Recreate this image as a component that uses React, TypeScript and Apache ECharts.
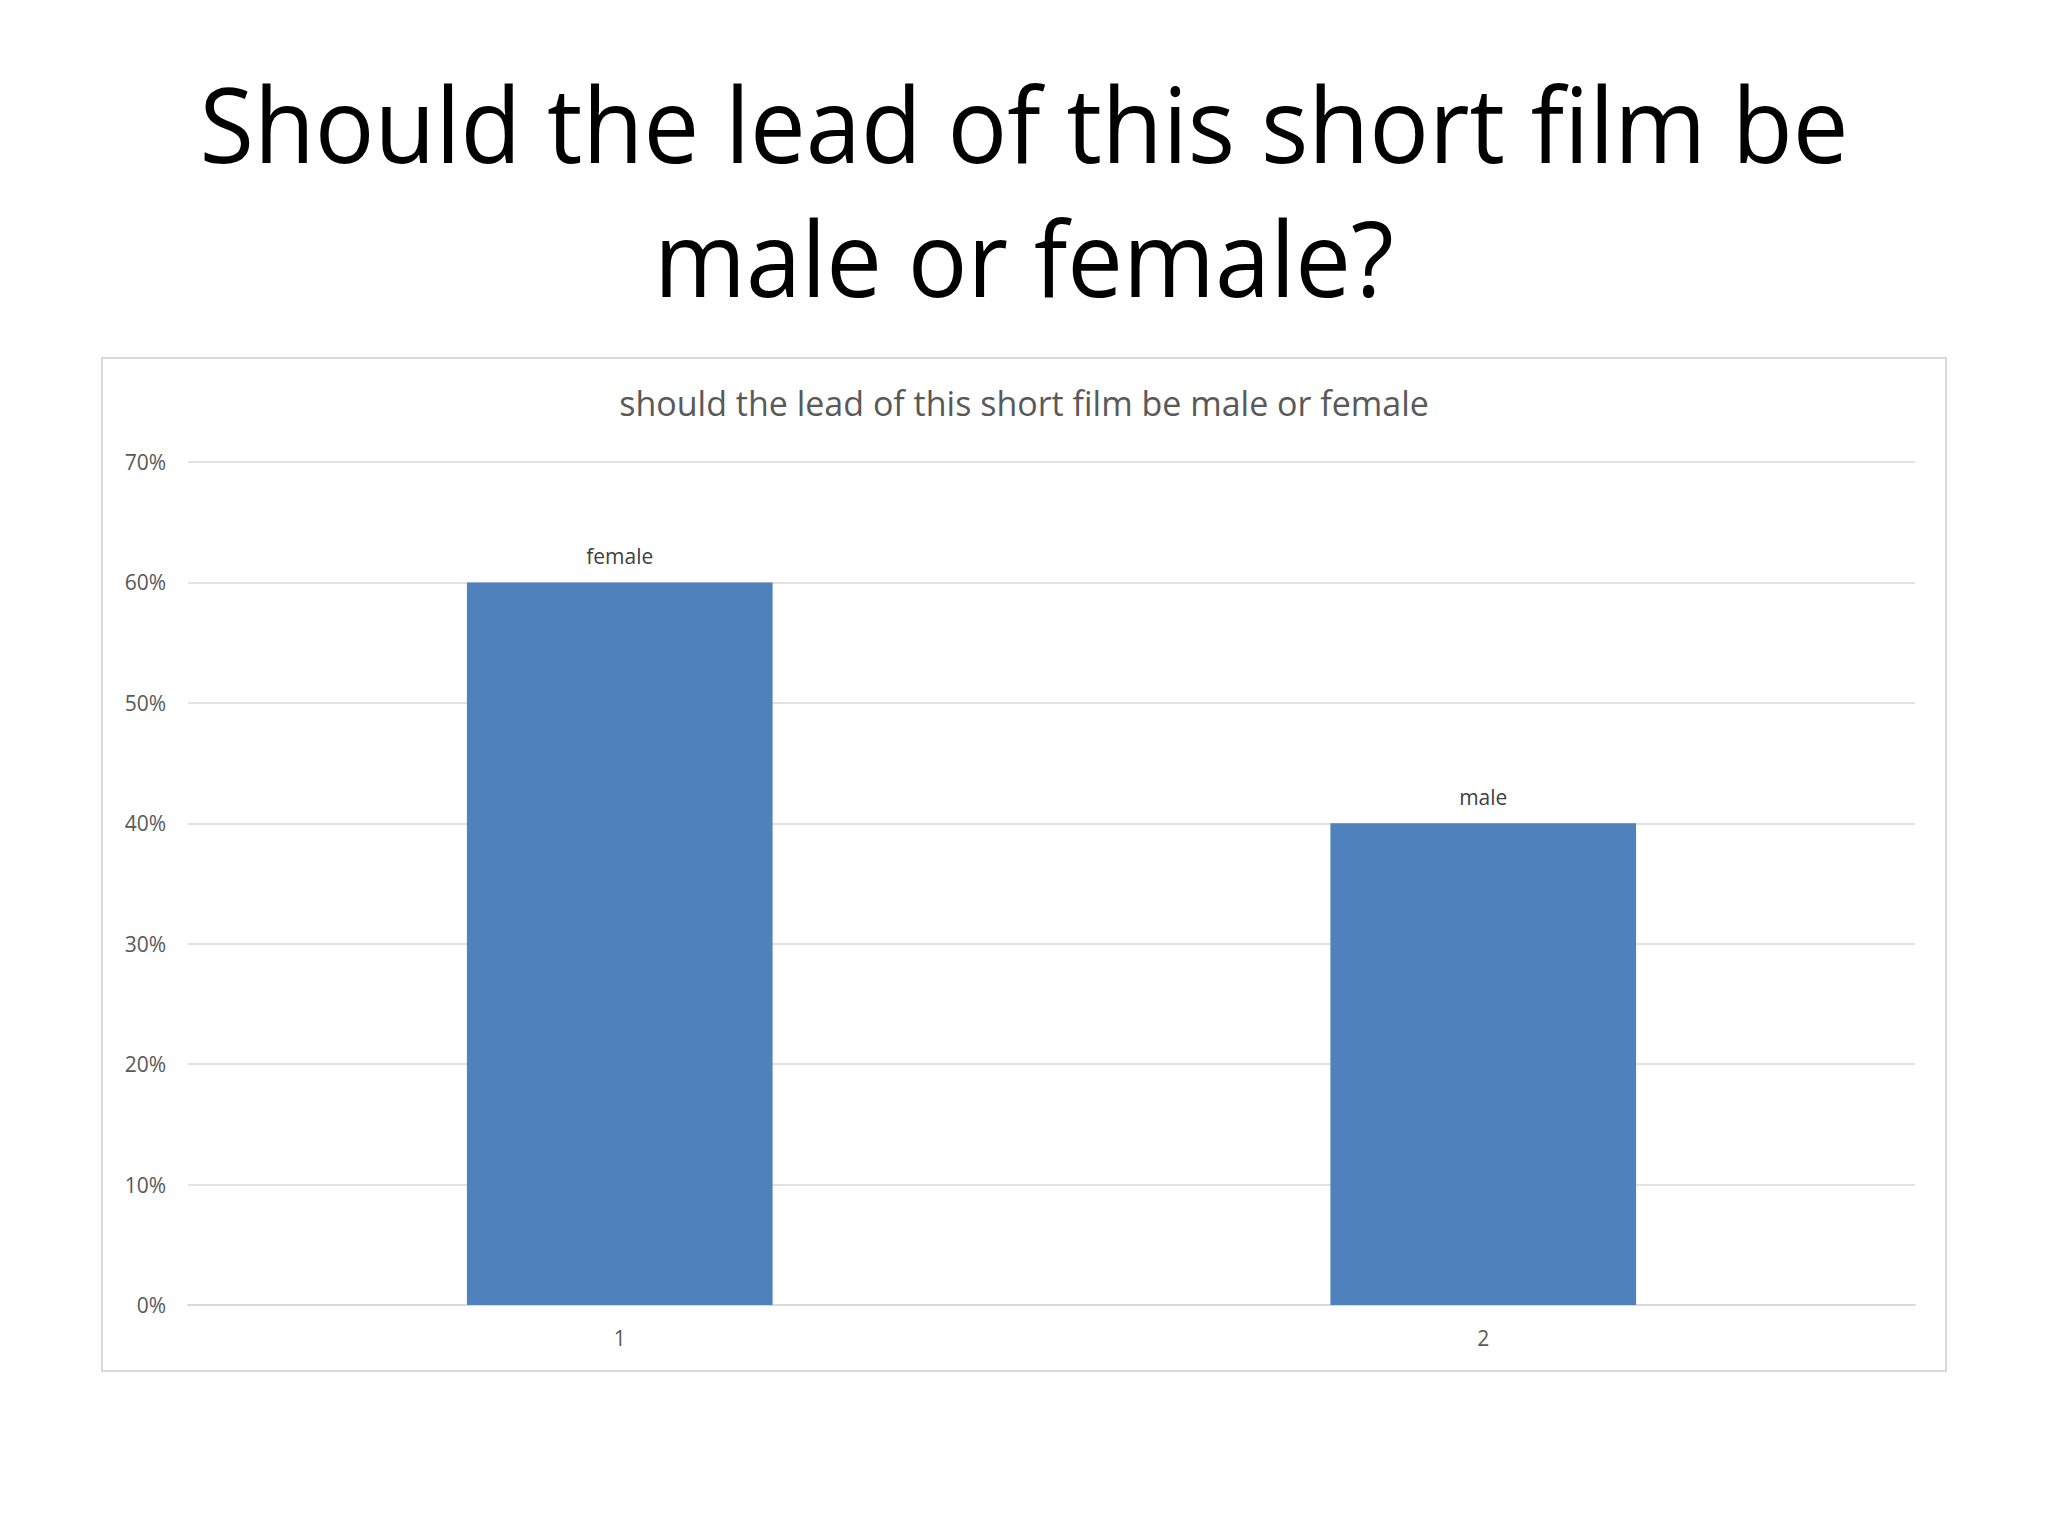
import { useEffect, useRef } from 'react';
import * as echarts from 'echarts';

const pageTitle = ['Should the lead of this short film be', 'male or female?'];
const chartTitle = 'should the lead of this short film be male or female';
const categories = ['1', '2'];
const barLabels = ['female', 'male'];
const values = [0.6, 0.4];
const yTicks = [0, 0.1, 0.2, 0.3, 0.4, 0.5, 0.6, 0.7];

const FONT = '"Open Sans", "Noto Sans", sans-serif';

export default function App() {
  const chartRef = useRef<HTMLDivElement>(null);

  useEffect(() => {
    if (!chartRef.current) return;
    const chart = echarts.init(chartRef.current, undefined, { renderer: 'svg' });

    const option: echarts.EChartsOption = {
      animation: false,
      backgroundColor: '#ffffff',
      textStyle: { fontFamily: FONT },
      graphic: [
        {
          type: 'rect',
          shape: { x: 102, y: 358, width: 1844, height: 1013 },
          style: { fill: '#ffffff', stroke: '#d9d9d9', lineWidth: 2 },
          z: -10
        },
        // big slide heading, two lines
        ...pageTitle.map((t, i) => ({
          type: 'text' as const,
          x: 1024,
          y: 123 + i * 134,
          scaleX: 0.955,
          style: {
            text: t,
            font: `104px ${FONT}`,
            fill: '#000000',
            textAlign: 'center' as const,
            textVerticalAlign: 'middle' as const
          }
        }))
      ],
      title: {
        text: chartTitle,
        left: 'center',
        top: 381,
        textStyle: {
          fontFamily: FONT,
          fontSize: 34,
          fontWeight: 'normal',
          color: '#595959'
        }
      },
      grid: {
        left: 188,
        right: 2048 - 1915,
        top: 462,
        bottom: 1536 - 1305,
        containLabel: false
      },
      xAxis: {
        type: 'category',
        data: categories,
        axisLine: { show: true, lineStyle: { color: '#d9d9d9', width: 2 } },
        axisTick: { show: false },
        axisLabel: {
          color: '#595959',
          fontSize: 21,
          fontFamily: FONT,
          margin: 22
        },
        splitLine: { show: false }
      },
      yAxis: {
        type: 'value',
        min: yTicks[0],
        max: yTicks[yTicks.length - 1],
        interval: 0.1,
        axisLine: { show: false },
        axisTick: { show: false },
        axisLabel: {
          color: '#595959',
          fontSize: 21,
          fontFamily: FONT,
          margin: 22,
          formatter: (v: number) => `${Math.round(v * 100)}%`
        },
        splitLine: { lineStyle: { color: '#d9d9d9', width: 1.5 } }
      },
      series: [
        {
          type: 'bar',
          data: values.map((v, i) => ({
            value: v,
            label: { formatter: barLabels[i] }
          })),
          barWidth: '35.4%',
          itemStyle: { color: '#4f81bd' },
          label: {
            show: true,
            position: 'top',
            distance: 16,
            color: '#404040',
            fontSize: 21,
            fontFamily: FONT
          }
        }
      ]
    };

    chart.setOption(option);
    return () => {
      chart.dispose();
    };
  }, []);

  return (
    <div
      ref={chartRef}
      style={{ position: 'fixed', left: 0, top: 0, width: 2048, height: 1536 }}
    />
  );
}
